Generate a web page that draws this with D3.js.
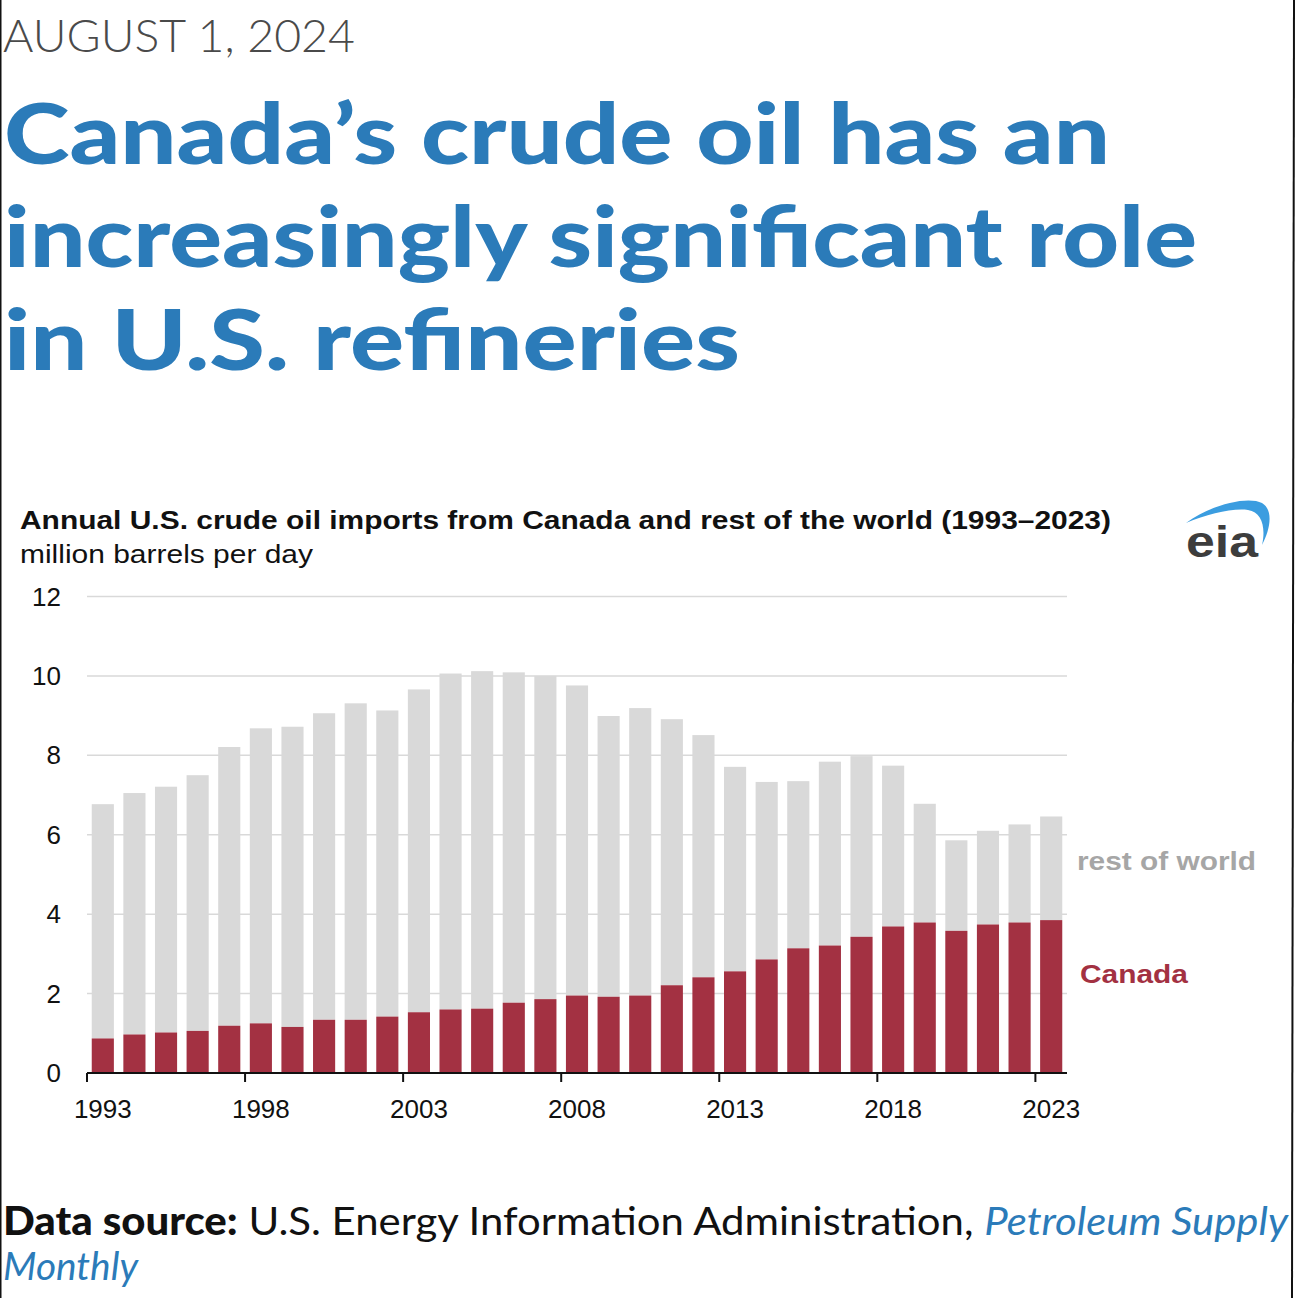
<!DOCTYPE html>
<html>
<head>
<meta charset="utf-8">
<script src="https://cdn.jsdelivr.net/npm/d3@7/dist/d3.min.js"></script>
<style>
  html, body { margin: 0; padding: 0; background: #fff; }
  svg { display: block; }
</style>
</head>
<body>
<svg id="chart" width="1296" height="1298"></svg>
<script>
// ---- data ----
const years = d3.range(1993, 2024);
const canada = [0.87, 0.97, 1.02, 1.06, 1.19, 1.25, 1.16, 1.34, 1.34, 1.42,
                1.53, 1.60, 1.62, 1.77, 1.86, 1.95, 1.92, 1.95, 2.21, 2.41,
                2.56, 2.86, 3.14, 3.21, 3.43, 3.69, 3.79, 3.58, 3.74, 3.79, 3.85];
const restOfWorld = [5.90, 6.08, 6.19, 6.44, 7.02, 7.43, 7.56, 7.72, 7.97, 7.71,
                     8.13, 8.46, 8.50, 8.32, 8.14, 7.81, 7.07, 7.24, 6.70, 6.10,
                     5.15, 4.47, 4.21, 4.63, 4.55, 4.05, 2.99, 2.28, 2.36, 2.47, 2.61];
const yTicks = [0, 2, 4, 6, 8, 10, 12];
const xTickYears = [1993, 1998, 2003, 2008, 2013, 2018, 2023];

const svg = d3.select("#chart");
const BLUE = "#2b7bb9", RED = "#a33142", GREY = "#d9d9d9";

// frame edges
svg.append("line").attr("x1", 0.75).attr("x2", 0.75).attr("y1", 0).attr("y2", 1298)
  .attr("stroke", "#111").attr("stroke-width", 1.5);
svg.append("line").attr("x1", 1294).attr("x2", 1292).attr("y1", 0).attr("y2", 1298)
  .attr("stroke", "#111").attr("stroke-width", 2);

function fitText(sel, w) {
  sel.attr("textLength", w).attr("lengthAdjust", "spacingAndGlyphs");
}

// date
svg.append("text").attr("x", 3).attr("y", 52)
  .attr("font-family", "Lato, sans-serif").attr("font-weight", 300)
  .attr("font-size", 46).attr("fill", "#4a4a4a").text("AUGUST 1, 2024")
  .call(fitText, 352);

// title
const titleLines = [
  {t: "Canada’s crude oil has an", y: 164, w: 1106},
  {t: "increasingly significant role", y: 267, w: 1193},
  {t: "in U.S. refineries", y: 370, w: 736}
];
titleLines.forEach(l => {
  svg.append("text").attr("x", 4).attr("y", l.y)
    .attr("font-family", "Lato, sans-serif").attr("font-weight", 900)
    .attr("font-size", 84).attr("fill", BLUE).text(l.t)
    .call(fitText, l.w);
});

// chart title
svg.append("text").attr("x", 20).attr("y", 529)
  .attr("font-family", "'Liberation Sans', Arial, sans-serif").attr("font-weight", 700)
  .attr("font-size", 26).attr("fill", "#111")
  .text("Annual U.S. crude oil imports from Canada and rest of the world (1993–2023)")
  .call(fitText, 1091);
svg.append("text").attr("x", 20).attr("y", 563)
  .attr("font-family", "'Liberation Sans', Arial, sans-serif")
  .attr("font-size", 26).attr("fill", "#111").text("million barrels per day")
  .call(fitText, 293);

// eia logo
const logo = svg.append("g");
logo.append("path")
  .attr("d", "M1186,523 C1212,504 1248,496 1262,503 C1274,510 1270,530 1262,545 C1266,528 1262,512 1248,510 C1232,508 1208,514 1186,523 Z")
  .attr("fill", "#3b9de0");
logo.append("text").attr("x", 1186).attr("y", 557)
  .attr("font-family", "'Liberation Sans', Arial, sans-serif").attr("font-weight", 700)
  .attr("font-size", 44).attr("fill", "#3d3d3d").text("eia")
  .call(fitText, 72);

// ---- scales ----
const x = d3.scaleBand().domain(years).range([87, 1067]).paddingInner(0.3).paddingOuter(0.15);
const y = d3.scaleLinear().domain([0, 12]).range([1073, 596.5]);
const gap = (x.step() - x.bandwidth()) / 2;

// gridlines
svg.append("g").selectAll("line").data(yTicks.filter(d => d > 0)).join("line")
  .attr("x1", 87).attr("x2", 1067)
  .attr("y1", d => y(d)).attr("y2", d => y(d))
  .attr("stroke", "#d9d9d9").attr("stroke-width", 1.5);

// y labels
svg.append("g").selectAll("text").data(yTicks).join("text")
  .attr("x", 61).attr("y", d => y(d)).attr("dy", "0.35em")
  .attr("text-anchor", "end")
  .attr("font-family", "'Liberation Sans', Arial, sans-serif")
  .attr("font-size", 26).attr("fill", "#111").text(d => d);

// bars
const bars = svg.append("g");
bars.selectAll("rect.row").data(years).join("rect").attr("class", "row")
  .attr("x", d => x(d)).attr("width", x.bandwidth())
  .attr("y", (d, i) => y(canada[i] + restOfWorld[i]))
  .attr("height", (d, i) => y(canada[i]) - y(canada[i] + restOfWorld[i]))
  .attr("fill", GREY);
bars.selectAll("rect.can").data(years).join("rect").attr("class", "can")
  .attr("x", d => x(d)).attr("width", x.bandwidth())
  .attr("y", (d, i) => y(canada[i]))
  .attr("height", (d, i) => y(0) - y(canada[i]))
  .attr("fill", RED);

// x axis
const ax = svg.append("g");
ax.append("line").attr("x1", 87).attr("x2", 1067).attr("y1", y(0)).attr("y2", y(0))
  .attr("stroke", "#111").attr("stroke-width", 2);
ax.selectAll("line.tick").data(xTickYears).join("line").attr("class", "tick")
  .attr("x1", d => x(d) - gap).attr("x2", d => x(d) - gap)
  .attr("y1", y(0)).attr("y2", y(0) + 9)
  .attr("stroke", "#111").attr("stroke-width", 2);
ax.selectAll("text").data(xTickYears).join("text")
  .attr("x", d => x(d) + x.bandwidth() / 2).attr("y", 1118)
  .attr("text-anchor", "middle")
  .attr("font-family", "'Liberation Sans', Arial, sans-serif")
  .attr("font-size", 26).attr("fill", "#111").text(d => d);

// legend labels
svg.append("text").attr("x", 1077).attr("y", 870)
  .attr("font-family", "'Liberation Sans', Arial, sans-serif").attr("font-weight", 700)
  .attr("font-size", 26).attr("fill", "#a6a6a6").text("rest of world")
  .call(fitText, 179);
svg.append("text").attr("x", 1080).attr("y", 983)
  .attr("font-family", "'Liberation Sans', Arial, sans-serif").attr("font-weight", 700)
  .attr("font-size", 26).attr("fill", RED).text("Canada")
  .call(fitText, 108);

// footer
const f1 = svg.append("text").attr("x", 3).attr("y", 1235)
  .attr("font-family", "Lato, sans-serif").attr("font-size", 39).attr("fill", "#111");
f1.append("tspan").attr("font-weight", 900).text("Data source:");
f1.append("tspan").attr("font-weight", 400).text(" U.S. Energy Information Administration, ");
f1.append("tspan").attr("font-style", "italic").attr("fill", BLUE).text("Petroleum Supply");
f1.call(fitText, 1285);
svg.append("text").attr("x", 3).attr("y", 1280)
  .attr("font-family", "Lato, sans-serif").attr("font-size", 39)
  .attr("font-style", "italic").attr("fill", BLUE).text("Monthly")
  .call(fitText, 135);
</script>
</body>
</html>
